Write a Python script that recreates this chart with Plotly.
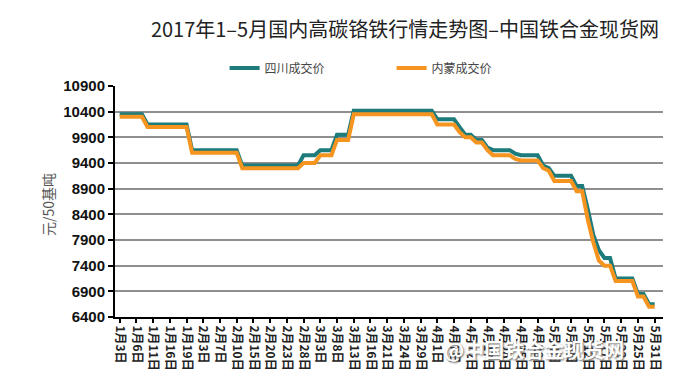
import plotly.graph_objects as go

# ---- data ----
tick_labels = ["1月3日", "1月6日", "1月11日", "1月16日", "1月19日", "2月3日", "2月7日",
               "2月10日", "2月15日", "2月20日", "2月23日", "2月28日", "3月3日", "3月8日",
               "3月13日", "3月16日", "3月21日", "3月24日", "3月29日", "4月1日", "4月7日",
               "4月12日", "4月17日", "4月20日", "4月25日", "4月28日", "5月4日", "5月9日",
               "5月12日", "5月17日", "5月22日", "5月25日", "5月31日"]
points_per_label = 3

sichuan = [10350, 10350, 10350, 10350, 10350,
           10150, 10150, 10150, 10150, 10150, 10150, 10150, 10150,
           9650, 9650, 9650, 9650, 9650, 9650, 9650, 9650, 9650,
           9350, 9350, 9350, 9350, 9350, 9350, 9350, 9350, 9350, 9350, 9350,
           9550, 9550, 9550,
           9650, 9650, 9650,
           9950, 9950, 9950,
           10420, 10420, 10420, 10420, 10420, 10420, 10420, 10420, 10420, 10420, 10420, 10420, 10420, 10420, 10420,
           10250, 10250, 10250, 10250,
           10100,
           9950, 9950,
           9850, 9850,
           9700,
           9650, 9650, 9650, 9650,
           9580,
           9550, 9550, 9550, 9550,
           9350, 9300,
           9150, 9150, 9150, 9150,
           8950, 8950,
           8500, 8000, 7700,
           7550, 7550,
           7150, 7150, 7150, 7150,
           6850, 6850,
           6650, 6650]

neimeng = [10300, 10300, 10300, 10300, 10300,
           10100, 10100, 10100, 10100, 10100, 10100, 10100, 10100,
           9600, 9600, 9600, 9600, 9600, 9600, 9600, 9600, 9600,
           9300, 9300, 9300, 9300, 9300, 9300, 9300, 9300, 9300, 9300, 9300,
           9400, 9400, 9400,
           9550, 9550, 9550,
           9850, 9850, 9850,
           10350, 10350, 10350, 10350, 10350, 10350, 10350, 10350, 10350, 10350, 10350, 10350, 10350, 10350, 10350,
           10150, 10150, 10150, 10150,
           10000,
           9900, 9900,
           9800, 9800,
           9650,
           9550, 9550, 9550, 9550,
           9480,
           9450, 9450, 9450, 9450,
           9300, 9250,
           9050, 9050, 9050, 9050,
           8850, 8850,
           8300, 7850, 7500,
           7400, 7400,
           7100, 7100, 7100, 7100,
           6800, 6800,
           6600, 6600]

series_names = ["四川成交价", "内蒙成交价"]
colors = ["#1d7b7c", "#f5951f"]

tick_vals = [i * points_per_label for i in range(len(tick_labels))]

fig = go.Figure()
for name, vals, col in zip(series_names, [sichuan, neimeng], colors):
    fig.add_trace(go.Scatter(x=list(range(len(vals))), y=vals, mode="lines", name=name,
                             line=dict(color=col, width=4)))

cjk = "Noto Sans CJK SC"
fig.update_layout(
    width=700, height=380,
    margin=dict(l=107, r=45, t=78, b=71),
    paper_bgcolor="white", plot_bgcolor="white",
    title=dict(text="2017年1–5月国内高碳铬铁行情走势图–中国铁合金现货网",
               x=0.567, xref="container", xanchor="center",
               y=0.942, yref="container", yanchor="middle",
               font=dict(family=cjk, size=20, color="#222")),
    legend=dict(orientation="h", x=0.2, xanchor="left", y=1.078, yanchor="middle",
                font=dict(family=cjk, size=12, color="#444"),
                entrywidth=122, entrywidthmode="pixels",
                bgcolor="rgba(0,0,0,0)"),
    xaxis=dict(range=[-0.84, 97.5], tickmode="array", tickvals=tick_vals, ticktext=tick_labels,
               tickangle=90, ticks="outside", ticklen=4, tickwidth=1.5, tickcolor="black",
               showline=True, linecolor="black", linewidth=2, showgrid=False, zeroline=False,
               tickfont=dict(family=cjk, size=12, color="#222", weight="bold")),
    yaxis=dict(range=[6400, 10900], tick0=6400, dtick=500, tickformat="d", showgrid=True,
               gridcolor="#8f8f8f", gridwidth=1.5, ticks="outside", ticklen=5, tickwidth=2,
               tickcolor="black", showline=True, linecolor="black", linewidth=2, zeroline=False,
               tickfont=dict(family="Liberation Sans", size=15, color="#111", weight="bold")),
    annotations=[
        dict(text="元/50基吨", xref="paper", yref="paper", x=-0.122, y=0.485,
             textangle=-90, showarrow=False, xanchor="center", yanchor="middle",
             font=dict(family=cjk, size=14, color="#555")),
        dict(text="@中国铁合金现货网", xref="paper", yref="paper", x=0.765, y=-0.14,
             showarrow=False, xanchor="center", yanchor="middle",
             font=dict(family=cjk, size=20, color="white", weight="bold",
                       shadow="1px 1px 2px #666")),
    ],
)

fig.write_html("out.html")
